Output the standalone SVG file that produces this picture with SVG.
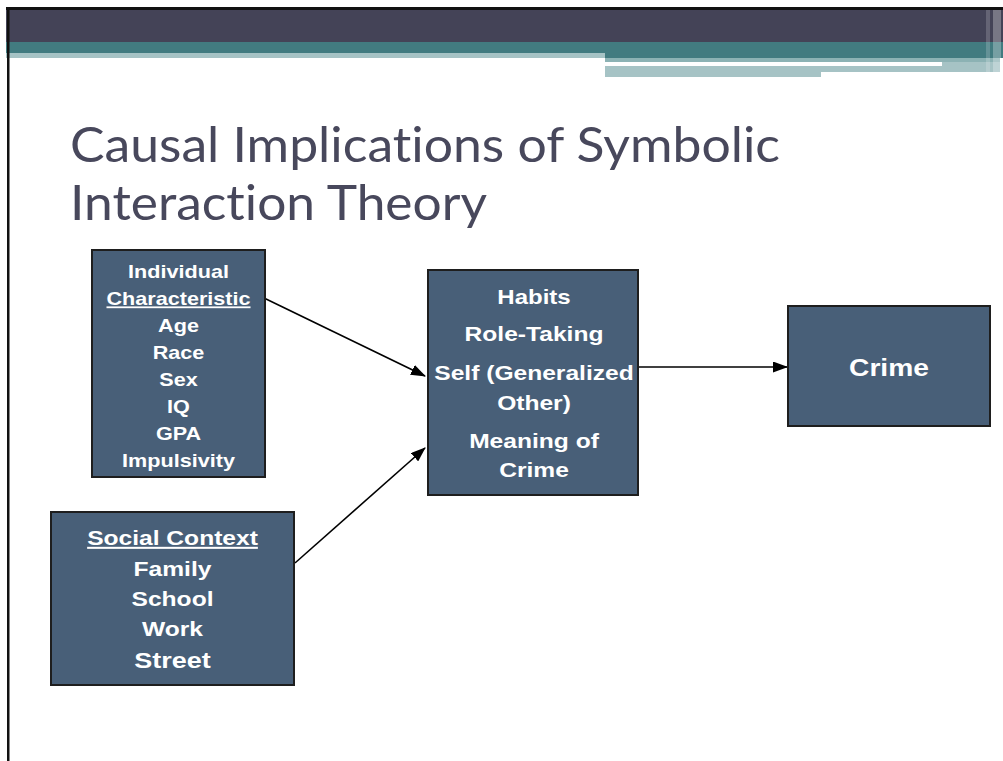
<svg xmlns="http://www.w3.org/2000/svg" width="1003" height="761" viewBox="0 0 1003 761">
<defs>
<marker id="ah" viewBox="0 0 15 11" refX="14" refY="5.5" markerWidth="15" markerHeight="11" markerUnits="userSpaceOnUse" orient="auto">
<path d="M0,0 L15,5.5 L0,11 Z" fill="#000"/>
</marker>
<style>
.box{fill:#485f78;stroke:#1e1e1e;stroke-width:2}
.t{font-family:"Liberation Sans",Arial,sans-serif;font-weight:bold;fill:#ffffff;text-anchor:middle}
.conn{stroke:#000;stroke-width:1.6;fill:none;marker-end:url(#ah)}
.title{font-family:Lato,"Open Sans","Liberation Sans",sans-serif;font-size:48px;fill:#48485c;font-variant-ligatures:none;font-feature-settings:"liga" 0,"dlig" 0}
</style>
</defs>
<rect x="0" y="0" width="1003" height="761" fill="#fff"/>
<g id="header">
<rect x="6" y="7" width="997" height="3" fill="#111"/>
<rect x="6" y="10" width="997" height="32" fill="#444357"/>
<rect x="6" y="42" width="997" height="11" fill="#427b80"/>
<rect x="6" y="53" width="599" height="5" fill="#a6c3c5"/>
<rect x="605" y="53" width="398" height="5" fill="#427b80"/>
<rect x="605" y="58" width="395" height="4" fill="#8cb2b4"/>
<rect x="942" y="62" width="58" height="4" fill="#a6c3c5"/>
<rect x="605" y="66" width="216" height="11" fill="#a6c3c5"/>
<rect x="821" y="66" width="179" height="6" fill="#a6c3c5"/>
<rect x="986" y="10" width="4" height="67" fill="#fff" opacity="0.18"/>
<rect x="993" y="10" width="8" height="67" fill="#fff" opacity="0.28"/>
<rect x="7" y="7" width="2.5" height="754" fill="#111"/>
</g>
<g id="title">
<text class="title" x="70" y="162" textLength="710" lengthAdjust="spacingAndGlyphs">Causal Implications of Symbolic</text>
<text class="title" x="70" y="220" textLength="417" lengthAdjust="spacingAndGlyphs">Interaction Theory</text>
</g>
<g id="connectors">
<line class="conn" x1="264" y1="298" x2="425" y2="376"/>
<line class="conn" x1="295" y1="563" x2="425" y2="448"/>
<line class="conn" x1="639" y1="367" x2="787" y2="367"/>
</g>
<g id="individual">
<rect class="box" x="92" y="250" width="173" height="227"/>
<g transform="translate(178.5,0) scale(1.2,1)">
<text class="t" font-size="18" x="0" y="278.5">Individual</text>
<text class="t" font-size="18" x="0" y="305.5" text-decoration="underline">Characteristic</text>
<text class="t" font-size="18" x="0" y="332">Age</text>
<text class="t" font-size="18" x="0" y="359">Race</text>
<text class="t" font-size="18" x="0" y="386">Sex</text>
<text class="t" font-size="18" x="0" y="413">IQ</text>
<text class="t" font-size="18" x="0" y="440">GPA</text>
<text class="t" font-size="18" x="0" y="467">Impulsivity</text>
</g>
</g>
<g id="social">
<rect class="box" x="51" y="512" width="243" height="173"/>
<g transform="translate(172.5,0) scale(1.2,1)">
<text class="t" font-size="20.5" x="0" y="545" text-decoration="underline">Social Context</text>
<text class="t" font-size="20.5" x="0" y="576">Family</text>
<text class="t" font-size="20.5" x="0" y="606">School</text>
<text class="t" font-size="20.5" x="0" y="636">Work</text>
<text class="t" font-size="22.5" x="0" y="668">Street</text>
</g>
</g>
<g id="mediators">
<rect class="box" x="428" y="270" width="210" height="225"/>
<g transform="translate(534,0) scale(1.2,1)">
<text class="t" font-size="20" x="0" y="304">Habits</text>
<text class="t" font-size="20.5" x="0" y="341">Role-Taking</text>
<text class="t" font-size="20.5" x="0" y="380">Self (Generalized</text>
<text class="t" font-size="20.5" x="0" y="410">Other)</text>
<text class="t" font-size="20.5" x="0" y="448">Meaning of</text>
<text class="t" font-size="20.5" x="0" y="477">Crime</text>
</g>
</g>
<g id="crime">
<rect class="box" x="788" y="306" width="202" height="120"/>
<g transform="translate(889,0) scale(1.2,1)">
<text class="t" font-size="23.5" x="0" y="376">Crime</text>
</g>
</g>
</svg>
